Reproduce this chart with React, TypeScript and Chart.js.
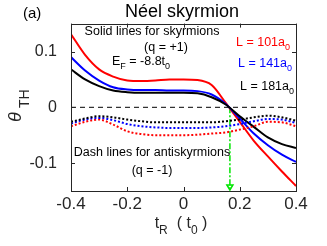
import React, { useEffect, useRef } from "react";
import { Chart, registerables } from "chart.js";

Chart.register(...registerables);

const tR = [-0.4, -0.35, -0.3, -0.25, -0.2, -0.15, -0.1, -0.05, 0, 0.05, 0.1, 0.15, 0.2, 0.25, 0.3, 0.35, 0.4];

const skL101 = [0.131, 0.094, 0.068, 0.055, 0.048, 0.047, 0.048, 0.05, 0.05, 0.049, 0.04, 0.008, -0.026, -0.06, -0.088, -0.115, -0.141];
const skL141 = [0.09, 0.066, 0.048, 0.036, 0.032, 0.031, 0.031, 0.03, 0.03, 0.029, 0.023, 0.006, -0.02, -0.047, -0.068, -0.085, -0.098];
const skL181 = [0.068, 0.05, 0.038, 0.03, 0.027, 0.026, 0.026, 0.026, 0.026, 0.025, 0.018, 0.005, -0.016, -0.035, -0.054, -0.066, -0.073];

const askL101 = [-0.034, -0.026, -0.022, -0.031, -0.043, -0.048, -0.05, -0.05, -0.05, -0.049, -0.047, -0.045, -0.04, -0.034, -0.026, -0.027, -0.034];
const askL141 = [-0.029, -0.022, -0.019, -0.023, -0.03, -0.034, -0.036, -0.037, -0.037, -0.037, -0.036, -0.034, -0.03, -0.025, -0.021, -0.022, -0.028];
const askL181 = [-0.026, -0.02, -0.016, -0.018, -0.022, -0.025, -0.027, -0.027, -0.027, -0.027, -0.027, -0.025, -0.022, -0.018, -0.015, -0.018, -0.024];

const xTicks = [-0.4, -0.2, 0, 0.2, 0.4];
const yTicks = [-0.1, 0, 0.1];
const xRange = [-0.4, 0.4];
const yRange = [-0.15, 0.15];
const crossingTR = 0.165;

const RED = "#ff0000";
const BLUE = "#0000ff";
const BLACK = "#000000";
const GREEN = "#00e600";
const AXIS = "#262626";
const FONT = "'Liberation Sans', Arial, Helvetica, sans-serif";

const pts = (ys: number[]) => ys.map((y, i) => ({ x: tR[i], y }));

type Seg = { t: string; sub?: boolean };

function drawRich(ctx: CanvasRenderingContext2D, segs: Seg[], x: number, y: number, size: number, color: string, align: "left" | "right" | "center") {
  const subSize = Math.round(size * 0.75);
  ctx.save();
  ctx.fillStyle = color;
  ctx.textBaseline = "middle";
  ctx.textAlign = "left";
  let total = 0;
  for (const s of segs) {
    ctx.font = `${s.sub ? subSize : size}px ${FONT}`;
    total += ctx.measureText(s.t).width;
  }
  let cx = align === "left" ? x : align === "right" ? x - total : x - total / 2;
  for (const s of segs) {
    ctx.font = `${s.sub ? subSize : size}px ${FONT}`;
    ctx.fillText(s.t, cx, s.sub ? y + size * 0.4 : y);
    cx += ctx.measureText(s.t).width;
  }
  ctx.restore();
}

const decorPlugin = {
  id: "decor",
  afterDraw(chart: any) {
    const { ctx, chartArea: a, scales } = chart;
    const xs = scales.x;
    const ys = scales.y;
    ctx.save();
    ctx.strokeStyle = AXIS;
    ctx.lineWidth = 1;
    ctx.strokeRect(Math.round(a.left) + 0.5, Math.round(a.top) + 0.5, Math.round(a.right - a.left), Math.round(a.bottom - a.top));
    const tl = 4;
    ctx.beginPath();
    for (const v of xTicks) {
      const px = Math.round(xs.getPixelForValue(v)) + 0.5;
      ctx.moveTo(px, a.bottom);
      ctx.lineTo(px, a.bottom - tl);
      ctx.moveTo(px, a.top);
      ctx.lineTo(px, a.top + tl);
    }
    for (const v of yTicks) {
      const py = Math.round(ys.getPixelForValue(v)) + 0.5;
      ctx.moveTo(a.left, py);
      ctx.lineTo(a.left + tl, py);
      ctx.moveTo(a.right, py);
      ctx.lineTo(a.right - tl, py);
    }
    ctx.stroke();
    ctx.restore();

    // arrow head on green line
    const gx = xs.getPixelForValue(crossingTR);
    const gy = a.bottom;
    ctx.save();
    ctx.strokeStyle = GREEN;
    ctx.lineWidth = 1.5;
    ctx.beginPath();
    ctx.moveTo(gx - 3, gy - 6);
    ctx.lineTo(gx, gy - 1);
    ctx.lineTo(gx + 3, gy - 6);
    ctx.closePath();
    ctx.stroke();
    ctx.restore();

    drawRich(ctx, [{ t: "(a)" }], 23, 14, 15, BLACK, "left");
    drawRich(ctx, [{ t: "Néel skyrmion" }], 182, 12, 18, BLACK, "center");
    drawRich(ctx, [{ t: "Solid lines for skyrmions" }], 152, 32, 12.5, BLACK, "center");
    drawRich(ctx, [{ t: "(q = +1)" }], 166, 48, 12.5, BLACK, "center");
    drawRich(ctx, [{ t: "E" }, { t: "F", sub: true }, { t: " = -8.8t" }, { t: "0", sub: true }], 112, 62, 12.5, BLACK, "left");
    drawRich(ctx, [{ t: "L = 101a" }, { t: "0", sub: true }], 290, 43, 12.5, RED, "right");
    drawRich(ctx, [{ t: "L = 141a" }, { t: "0", sub: true }], 292, 64, 12.5, BLUE, "right");
    drawRich(ctx, [{ t: "L = 181a" }, { t: "0", sub: true }], 294, 87, 12.5, BLACK, "right");
    drawRich(ctx, [{ t: "Dash lines for antiskyrmions" }], 152, 153, 12.5, BLACK, "center");
    drawRich(ctx, [{ t: "(q = -1)" }], 152, 171, 12.5, BLACK, "center");
    drawRich(ctx, [{ t: "t" }, { t: "R", sub: true }, { t: "  ( t" }, { t: "0", sub: true }, { t: " )" }], 181, 224, 16, AXIS, "center");

    // y label rotated
    ctx.save();
    ctx.translate(16, 106);
    ctx.rotate(-Math.PI / 2);
    ctx.fillStyle = AXIS;
    ctx.textBaseline = "middle";
    ctx.textAlign = "left";
    ctx.font = `italic 18px ${FONT}`;
    ctx.fillText("θ", -16, 0);
    ctx.font = `14px ${FONT}`;
    ctx.fillText("TH", -2, 9);
    ctx.restore();
  },
};

export default function App() {
  const ref = useRef<HTMLCanvasElement | null>(null);
  useEffect(() => {
    if (!ref.current) return;
    const solid = (label: string, ys: number[], color: string) => ({
      label,
      data: pts(ys),
      borderColor: color,
      backgroundColor: color,
      borderWidth: 2,
      pointRadius: 0,
      cubicInterpolationMode: "monotone" as const,
      fill: false,
    });
    const dotted = (label: string, ys: number[], color: string) => ({
      ...solid(label, ys, color),
      borderDash: [2, 2],
    });
    const chart = new Chart(ref.current, {
      type: "line",
      data: {
        datasets: [
          {
            label: "zero",
            data: [
              { x: xRange[0], y: 0 },
              { x: xRange[1], y: 0 },
            ],
            borderColor: BLACK,
            borderWidth: 1,
            borderDash: [5, 4],
            pointRadius: 0,
            fill: false,
          },
          dotted("askL181", askL181, BLACK),
          dotted("askL141", askL141, BLUE),
          dotted("askL101", askL101, RED),
          solid("L181", skL181, BLACK),
          solid("L141", skL141, BLUE),
          solid("L101", skL101, RED),
          {
            label: "crossing",
            data: [
              { x: crossingTR, y: 0 },
              { x: crossingTR, y: yRange[0] },
            ],
            borderColor: GREEN,
            borderWidth: 1.5,
            borderDash: [6, 2, 2, 2],
            pointRadius: 0,
            fill: false,
          },
        ],
      },
      options: {
        animation: false,
        responsive: false,
        maintainAspectRatio: false,
        layout: { padding: { top: 21, right: 31, left: 0, bottom: 0 } },
        plugins: { legend: { display: false }, tooltip: { enabled: false }, title: { display: false } },
        scales: {
          x: {
            type: "linear",
            min: xRange[0],
            max: xRange[1],
            grid: { display: false, drawTicks: false },
            border: { display: false },
            afterBuildTicks: (s: any) => {
              s.ticks = xTicks.map((v) => ({ value: v }));
            },
            afterFit: (s: any) => {
              s.height = 55;
            },
            ticks: {
              color: AXIS,
              font: { size: 17, family: FONT },
              padding: 3,
              maxRotation: 0,
              callback: (v: any) => String(Math.round(Number(v) * 10) / 10),
            },
          },
          y: {
            type: "linear",
            min: yRange[0],
            max: yRange[1],
            grid: { display: false, drawTicks: false },
            border: { display: false },
            afterBuildTicks: (s: any) => {
              s.ticks = yTicks.map((v) => ({ value: v }));
            },
            afterFit: (s: any) => {
              s.width = 71;
            },
            ticks: {
              color: AXIS,
              font: { size: 16, family: FONT },
              padding: 14,
              callback: (v: any) => String(Math.round(Number(v) * 10) / 10),
            },
          },
        },
      },
      plugins: [decorPlugin],
    });
    return () => chart.destroy();
  }, []);
  return (
    <div style={{ position: "absolute", left: 0, top: 0, width: 327, height: 246, background: "#fff" }}>
      <canvas ref={ref} width={327} height={246} style={{ width: 327, height: 246, display: "block" }} />
    </div>
  );
}
